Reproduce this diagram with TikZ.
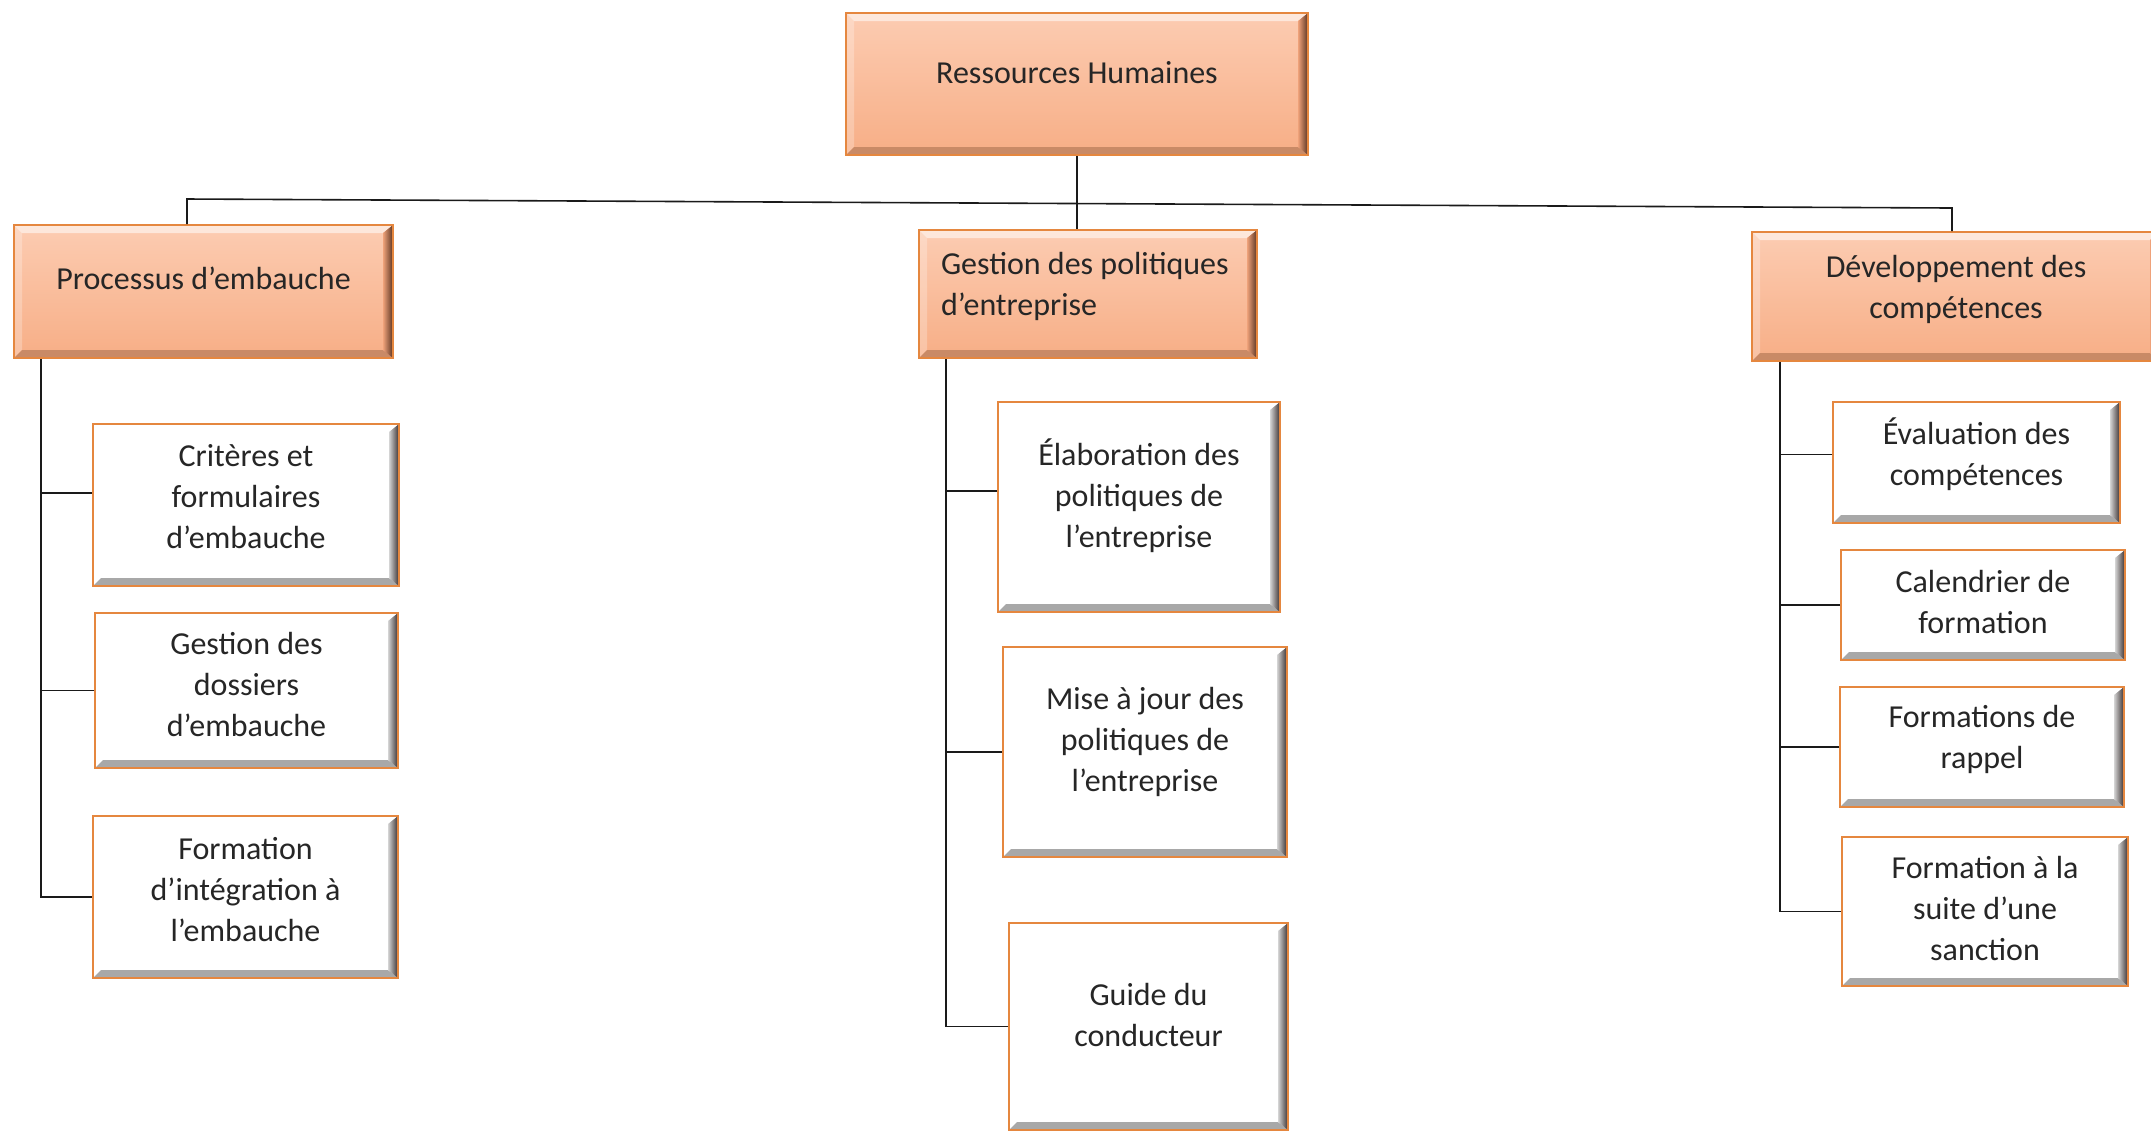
\documentclass[tikz,border=0pt]{standalone}
\usepackage{fontspec}
\setmainfont{Carlito}
\definecolor{edge}{HTML}{E5873F}
\definecolor{ptop}{HTML}{FCCCB2}
\definecolor{pbottom}{HTML}{F7AE86}
\definecolor{pbot}{HTML}{C98A66}
\definecolor{pmid}{HTML}{EFA27A}
\definecolor{pdark}{HTML}{5A3422}
\definecolor{cbot}{HTML}{A8A8A8}
\definecolor{cmid}{HTML}{D4D4D4}
\definecolor{cdark}{HTML}{3A3030}
\definecolor{txt}{HTML}{262626}
\definecolor{lin}{HTML}{1A1A1A}
\tikzset{
  bev/.style n args={3}{path picture={
    \coordinate (bNW) at (path picture bounding box.north west);
    \coordinate (bNE) at (path picture bounding box.north east);
    \coordinate (bSW) at (path picture bounding box.south west);
    \coordinate (bSE) at (path picture bounding box.south east);
    \fill[white,opacity=.55] (bNW) -- (bNE) -- ([shift={(-5pt,-4pt)}]bNE) -- ([shift={(4pt,-4pt)}]bNW) -- cycle;
    \fill[white,opacity=.25] (bNW) -- ([shift={(4pt,-4pt)}]bNW) -- ([shift={(4pt,4pt)}]bSW) -- (bSW) -- cycle;
    \fill[#1] (bSW) -- ([shift={(4pt,4pt)}]bSW) -- ([shift={(-5pt,4pt)}]bSE) -- (bSE) -- cycle;
    \shade[left color=#2, right color=#3] (bNE) -- ([shift={(-5pt,-4pt)}]bNE) -- ([shift={(-5pt,4pt)}]bSE) -- (bSE) -- cycle;
  }},
  box/.style={rectangle, inner sep=0pt, draw=edge, line width=1pt, align=center,
    text=txt, font=\fontsize{16pt}{20.5pt}\selectfont},
  pbox/.style={box, top color=ptop, bottom color=pbottom, bev={pbot}{pmid}{pdark}},
  cbox/.style={box, fill=white, bev={cbot}{cmid}{cdark}},
  conn/.style={draw=lin, line width=0.8pt},
}
\begin{document}
\begin{tikzpicture}[x=0.5pt,y=-0.5pt]
\useasboundingbox (0,0) rectangle (2151,1132);
\clip (0,0) rectangle (2151,1132);

% parents
\node[pbox, minimum width=231pt, minimum height=71pt, text depth=12pt] (top) at (1077,84) {Ressources Humaines};
\node[pbox, minimum width=189.5pt, minimum height=66.5pt, text depth=13pt] (P1) at (203.5,291.5) {Processus d’embauche};
\node[pbox, minimum width=169pt, minimum height=64pt, text depth=31pt, text width=147pt, align=flush left] (P2) at (1088,294) {Gestion des politiques\\d’entreprise};
\node[pbox, minimum width=204pt, minimum height=64.5pt, text depth=10pt] (P3) at (1956,296.5) {Développement des\\compétences};

% left children
\node[cbox, minimum width=153pt, minimum height=81pt, text depth=9pt] (L1) at (246,505) {Critères et\\formulaires\\d’embauche};
\node[cbox, minimum width=151.5pt, minimum height=77.5pt, text depth=6pt] (L2) at (246.5,690.5) {Gestion des\\dossiers\\d’embauche};
\node[cbox, minimum width=152.5pt, minimum height=81pt, text depth=8pt] (L3) at (245.5,897) {Formation\\d’intégration à\\l’embauche};

% middle children
\node[cbox, minimum width=141pt, minimum height=105pt, text depth=14pt] (M1) at (1139,507) {Élaboration des\\politiques de\\l’entreprise};
\node[cbox, minimum width=142pt, minimum height=105pt, text depth=13pt] (M2) at (1145,752) {Mise à jour des\\politiques de\\l’entreprise};
\node[cbox, minimum width=139.5pt, minimum height=103.5pt, text depth=12pt] (M3) at (1148.5,1026.5) {Guide du\\conducteur};

% right children
\node[cbox, minimum width=143.5pt, minimum height=60.5pt, text depth=11pt] (R1) at (1976.5,462.5) {Évaluation des\\compétences};
\node[cbox, minimum width=142pt, minimum height=55pt, text depth=3pt] (R2) at (1983,605) {Calendrier de\\formation};
\node[cbox, minimum width=142pt, minimum height=60pt, text depth=10pt] (R3) at (1982,747) {Formations de\\rappel};
\node[cbox, minimum width=143pt, minimum height=74.5pt, text depth=3.5pt] (R4) at (1985,911.5) {Formation à la\\suite d’une\\sanction};

% bus
\coordinate (busL) at (187,199);
\coordinate (busR) at (1952,208);
\draw[conn] (top.south) -- (top.south |- P2.north);
\draw[conn] (P1.north -| busL) -- (busL) -- (busR) -- (P3.north -| busR);

% left trunk
\coordinate (tL) at ([xshift=14pt]P1.south west);
\draw[conn] (tL) |- (L3.west);
\coordinate (cL1) at ([yshift=6pt]L1.west);
\draw[conn] (cL1) -- (tL |- cL1);
\draw[conn] (L2.west) -- (tL |- L2.west);

% middle trunk
\coordinate (tM) at ([xshift=14pt]P2.south west);
\draw[conn] (tM) |- (M3.west);
\coordinate (cM1) at ([yshift=8pt]M1.west);
\draw[conn] (cM1) -- (tM |- cM1);
\draw[conn] (M2.west) -- (tM |- M2.west);

% right trunk
\coordinate (tR) at ([xshift=14.5pt]P3.south west);
\draw[conn] (tR) |- (R4.west);
\coordinate (cR1) at ([yshift=4pt]R1.west);
\draw[conn] (cR1) -- (tR |- cR1);
\draw[conn] (R2.west) -- (tR |- R2.west);
\draw[conn] (R3.west) -- (tR |- R3.west);
\end{tikzpicture}
\end{document}
